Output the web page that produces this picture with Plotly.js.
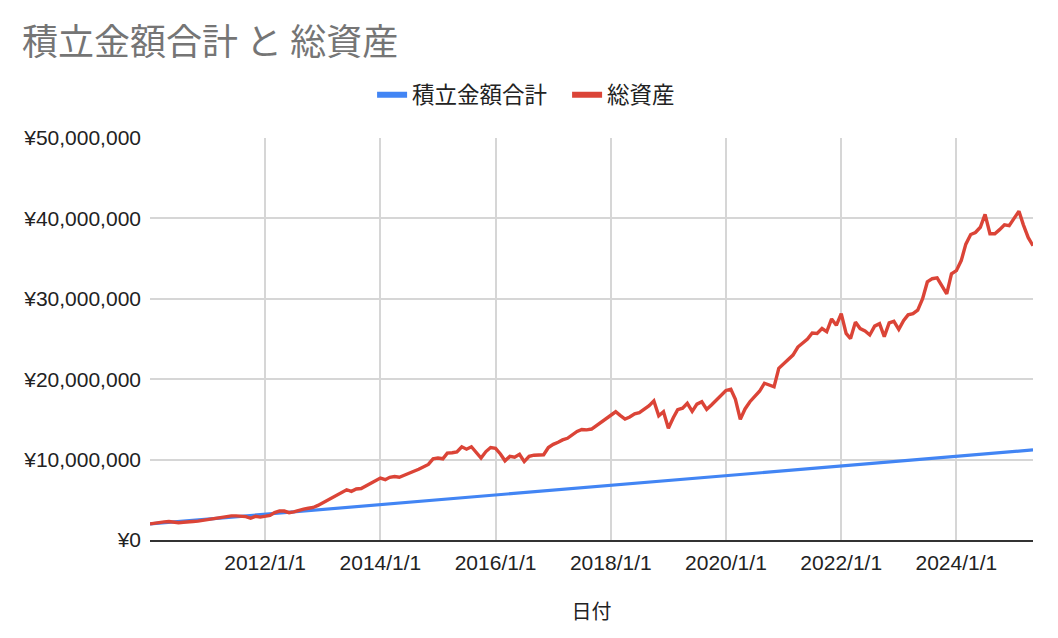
<!DOCTYPE html>
<html>
<head>
<meta charset="utf-8">
<script src="https://cdn.plot.ly/plotly-3.0.1.min.js"></script>
<style>html,body{margin:0;padding:0;background:#fff;}#chart{width:1058px;height:638px;}</style>
</head>
<body>
<div id="chart"></div>
<script>
// Series names and labels
const seriesNames = ['積立金額合計', '総資産'];
const titleText = '積立金額合計 と 総資産';
const xTitle = '日付';
const tickDates = ['2012-01-01','2014-01-01','2016-01-01','2018-01-01','2020-01-01','2022-01-01','2024-01-01'];
const tickLabels = ['2012/1/1','2014/1/1','2016/1/1','2018/1/1','2020/1/1','2022/1/1','2024/1/1'];
const yTickValues = [0, 10000000, 20000000, 30000000, 40000000, 50000000];
const yTickLabels = ['¥0','¥10,000,000','¥20,000,000','¥30,000,000','¥40,000,000','¥50,000,000'];

// 積立金額合計 (millions of yen), read at these dates (straight line)
const contribDates = ['2010-01-01','2012-01-01','2014-01-01','2016-01-01','2018-01-01','2020-01-01','2022-01-01','2024-01-01','2025-05-01'];
const contribValues = [2.0, 3.2, 4.4, 5.6, 6.8, 8.0, 9.2, 10.4, 11.2];

// 総資産 (millions of yen), monthly from 2010-01
const assetStart = '2010-01';
const assetValues = [
  2.0, 2.05, 2.15, 2.25, 2.3, 2.2, 2.15, 2.2, 2.2, 2.3, 2.35, 2.45,
  2.55, 2.65, 2.75, 2.85, 2.95, 3.0, 3.0, 3.0, 2.9, 2.7, 2.95, 2.85,
  2.9, 3.05, 3.4, 3.6, 3.6, 3.4, 3.5, 3.7, 3.85, 3.95, 4.05, 4.3,
  4.65, 5.0, 5.3, 5.6, 5.9, 6.25, 6.05, 6.35, 6.4, 6.7, 7.0, 7.4,
  7.7, 7.5, 7.8, 7.9, 7.8, 8.05, 8.35, 8.55, 8.8, 9.1, 9.4, 10.1,
  10.2, 10.1, 10.8, 10.85, 10.95, 11.6, 11.3, 11.6, 10.9, 10.2, 11.0, 11.5,
  11.4, 10.7, 9.85, 10.4, 10.3, 10.65, 9.75, 10.4, 10.55, 10.55, 10.6, 11.5,
  11.9, 12.15, 12.45, 12.65, 13.1, 13.5, 13.75, 13.7, 13.8, 14.2, 14.6, 15.1,
  15.5, 15.95, 15.5, 15.05, 15.3, 15.7, 15.85, 16.3, 16.7, 17.3, 15.45, 15.95,
  13.9, 15.2, 16.2, 16.4, 17.0, 16.0, 16.9, 17.2, 16.25, 16.8, 17.4, 18.1,
  18.6, 18.75, 17.5, 15.0, 16.3, 17.2, 17.8, 18.5, 19.5, 19.3, 19.05, 21.35,
  21.9, 22.4, 23.0, 24.0, 24.5, 25.0, 25.75, 25.7, 26.3, 25.9, 27.5, 26.7,
  28.15, 25.7, 25.05, 27.1, 26.3, 26.0, 25.5, 26.6, 26.9, 25.3, 27.0, 27.2,
  26.2, 27.3, 28.0, 28.15, 28.6, 30.0, 32.1, 32.5, 32.6, 31.6, 30.6, 33.1,
  33.5, 34.75, 36.8, 38.0, 38.25, 38.9, 40.5, 38.1, 38.1, 38.6, 39.2, 39.1,
  40.0, 40.9, 39.2, 37.6, 36.6
];

function monthDates(start, n) {
  const [y0, m0] = start.split('-').map(Number);
  const out = [];
  for (let i = 0; i < n; i++) {
    const t = (m0 - 1) + i;
    const y = y0 + Math.floor(t / 12);
    const m = (t % 12) + 1;
    out.push(y + '-' + String(m).padStart(2, '0') + '-01');
  }
  return out;
}
const assetDates = monthDates(assetStart, assetValues.length);
const MIL = 1e6;
const colors = ['#4285F4', '#DB4437'];

const FONT = '"Liberation Sans", Arial, "Noto Sans CJK JP", sans-serif';
const CJK = '"Noto Sans CJK JP", sans-serif';

const traces = [
  {
    type: 'scatter', mode: 'lines', name: seriesNames[0], legendgroup: 'a', showlegend: false,
    x: contribDates, y: contribValues.map(v => v * MIL),
    line: {color: colors[0], width: 3.2}
  },
  {
    type: 'scatter', mode: 'lines', name: seriesNames[1], legendgroup: 'b', showlegend: false,
    x: assetDates, y: assetValues.map(v => v * MIL),
    line: {color: colors[1], width: 3.4}
  },
  // legend swatches (no data drawn)
  {
    type: 'scatter', mode: 'lines', name: seriesNames[0], legendgroup: 'a', showlegend: true,
    x: [null], y: [null], line: {color: colors[0], width: 6}
  },
  {
    type: 'scatter', mode: 'lines', name: seriesNames[1], legendgroup: 'b', showlegend: true,
    x: [null], y: [null], line: {color: colors[1], width: 6}
  }
];

const layout = {
  width: 1058, height: 638,
  margin: {l: 150, r: 25, t: 138, b: 98},
  paper_bgcolor: '#fff', plot_bgcolor: '#fff',
  font: {family: FONT, color: '#222', size: 21},
  title: {
    text: titleText, x: 22/1058, xanchor: 'left', xref: 'container',
    y: 1 - 42/638, yanchor: 'middle', yref: 'container',
    font: {family: CJK, size: 36, color: '#757575'}
  },
  showlegend: true,
  legend: {
    orientation: 'h', xref: 'container', yref: 'container',
    x: 0.536, xanchor: 'center', y: 1 - 95/638, yanchor: 'middle',
    font: {family: CJK, size: 22.5, color: '#222'},
    itemwidth: 30, entrywidth: 150, traceorder: 'normal'
  },
  xaxis: {
    type: 'date',
    range: ['2010-01-01', '2025-05-01'],
    tickmode: 'array', tickvals: tickDates, ticktext: tickLabels,
    showgrid: true, gridcolor: '#d6d6d6', gridwidth: 2,
    showline: true, linecolor: '#333', linewidth: 2,
    ticks: '', zeroline: false, ticklabelstandoff: 3,
    tickfont: {size: 21, color: '#222'},
    title: {text: xTitle, standoff: 32, font: {family: CJK, size: 20, color: '#222'}}
  },
  yaxis: {
    range: [0, 50 * MIL],
    tickmode: 'array', tickvals: yTickValues, ticktext: yTickLabels,
    showgrid: true, gridcolor: '#d6d6d6', gridwidth: 2,
    zeroline: false, showline: false, ticks: '', ticklabelstandoff: 8,
    tickfont: {size: 21, color: '#222'}
  }
};

Plotly.newPlot('chart', traces, layout, {displayModeBar: false, staticPlot: true});
</script>
</body>
</html>
